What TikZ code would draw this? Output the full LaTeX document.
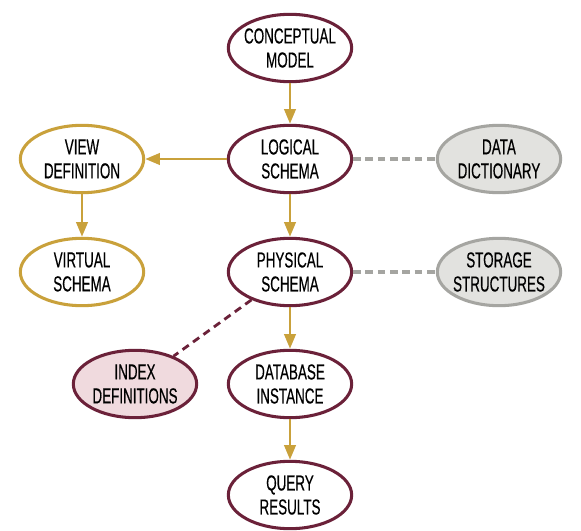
\documentclass[tikz,border=0pt]{standalone}
\usepackage{fontspec}
\setmainfont[FakeStretch=0.62,FakeBold=0.4]{Liberation Sans}
\usepackage{xcolor}
\usetikzlibrary{arrows.meta,shapes.geometric}

\definecolor{maroon}{HTML}{6B2139}
\definecolor{gold}{HTML}{C9A13B}
\definecolor{stone}{HTML}{A5A5A1}
\definecolor{stonefill}{HTML}{E2E2DF}
\definecolor{rose}{HTML}{F0DADE}

\tikzset{
  stage/.style={ellipse,draw=maroon,fill=white,line width=2.6pt,minimum width=3.7cm,minimum height=2.02cm,
    align=center,inner sep=-10pt,font=\fontsize{18.5}{20.5}\selectfont},
  view/.style={stage,draw=gold},
  aux/.style={stage,draw=stone,fill=stonefill},
  index/.style={stage,fill=rose},
  flow/.style={draw=gold,line width=2.4pt,-{Triangle[length=4.4mm,width=3.4mm]}},
  link/.style={draw=stone,line width=3.4pt,dash pattern=on 6.5pt off 4pt},
  mlink/.style={draw=maroon,line width=2.4pt,dash pattern=on 6.5pt off 4.5pt}
}

\begin{document}
\begin{tikzpicture}[x=0.03cm,y=-0.03cm]
        \useasboundingbox[fill=white] (0,0) rectangle (581,531);
        \node[stage] (concept) at (290,48) {CONCEPTUAL\\MODEL};
        \node[stage] (logical) at (290,159) {LOGICAL\\SCHEMA};
        \node[view] (viewdef) at (82,159) {VIEW\\DEFINITION};
        \node[aux] (dict) at (499,159) {DATA\\DICTIONARY};
        \node[view] (virtual) at (82,272) {VIRTUAL\\SCHEMA};
        \node[stage] (physical) at (290,272) {PHYSICAL\\SCHEMA};
        \node[aux] (storage) at (499,272) {STORAGE\\STRUCTURES};
        \node[index] (indexdef) at (135,384) {INDEX\\DEFINITIONS};
        \node[stage] (instance) at (290,384) {DATABASE\\INSTANCE};
        \node[stage] (query) at (290,495) {QUERY\\RESULTS};
        \draw[flow] (concept) -- (logical);
        \draw[flow] (logical) -- (viewdef);
        \draw[flow] (viewdef) -- (virtual);
        \draw[flow] (logical) -- (physical);
        \draw[flow] (physical) -- (instance);
        \draw[flow] (instance) -- (query);
        \draw[link] (logical) -- (dict);
        \draw[link] (physical) -- (storage);
        \draw[mlink] (physical) -- (indexdef);
    \end{tikzpicture}
\end{document}
